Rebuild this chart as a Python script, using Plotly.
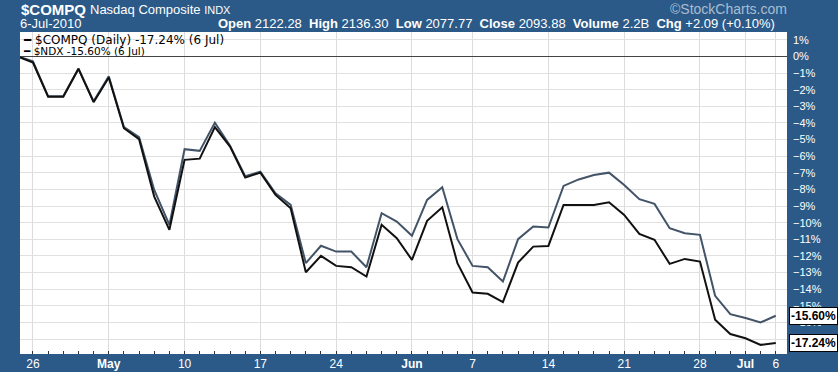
import plotly.graph_objects as go

# Trading days (categories)
dates = [
    "2010-04-23", "2010-04-26", "2010-04-27", "2010-04-28", "2010-04-29", "2010-04-30",
    "2010-05-03", "2010-05-04", "2010-05-05", "2010-05-06", "2010-05-07",
    "2010-05-10", "2010-05-11", "2010-05-12", "2010-05-13", "2010-05-14",
    "2010-05-17", "2010-05-18", "2010-05-19", "2010-05-20", "2010-05-21",
    "2010-05-24", "2010-05-25", "2010-05-26", "2010-05-27", "2010-05-28",
    "2010-06-01", "2010-06-02", "2010-06-03", "2010-06-04",
    "2010-06-07", "2010-06-08", "2010-06-09", "2010-06-10", "2010-06-11",
    "2010-06-14", "2010-06-15", "2010-06-16", "2010-06-17", "2010-06-18",
    "2010-06-21", "2010-06-22", "2010-06-23", "2010-06-24", "2010-06-25",
    "2010-06-28", "2010-06-29", "2010-06-30", "2010-07-01", "2010-07-02",
    "2010-07-06",
]

# $COMPQ percent change (%)
compq = [
    0.0, -0.37, -2.42, -2.42, -0.75, -2.75,
    -1.27, -4.32, -4.98, -8.43, -10.43,
    -6.22, -6.15, -4.25, -5.42, -7.29,
    -6.99, -8.33, -9.13, -12.98, -12.0,
    -12.6, -12.68, -13.24, -10.13, -10.93,
    -12.24, -9.89, -9.07, -12.44,
    -14.2, -14.28, -14.78, -12.4, -11.44,
    -11.4, -8.93, -8.93, -8.93, -8.77,
    -9.53, -10.67, -11.03, -12.48, -12.18,
    -12.34, -15.84, -16.7, -16.95, -17.35,
    -17.24,
]

# $NDX percent change (%)
ndx = [
    0.0, -0.3, -2.4, -2.4, -0.72, -2.7,
    -1.2, -4.25, -4.85, -8.03, -10.13,
    -5.58, -5.68, -3.98, -5.38, -7.2,
    -6.93, -8.23, -8.93, -12.43, -11.39,
    -11.74, -11.74, -12.68, -9.43, -9.93,
    -10.79, -8.63, -7.87, -10.99,
    -12.6, -12.68, -13.54, -10.99, -10.23,
    -10.29, -7.79, -7.4, -7.13, -6.99,
    -7.73, -8.59, -8.87, -10.33, -10.63,
    -10.73, -14.4, -15.5, -15.74, -16.0,
    -15.6,
]

tick_dates = ["2010-04-26", "2010-05-03", "2010-05-10", "2010-05-17", "2010-05-24",
              "2010-06-01", "2010-06-07", "2010-06-14", "2010-06-21", "2010-06-28",
              "2010-07-01", "2010-07-06"]
tick_labels = ["26", "<b>May</b>", "10", "17", "24", "<b>Jun</b>", "7", "14", "21", "28",
               "<b>Jul</b>", "6"]

BG = "#2b5a88"
NDX_COLOR = "#435468"
COMPQ_COLOR = "#111111"
FONT = "Arial, Liberation Sans, sans-serif"

x = list(range(len(dates)))
tickvals = [dates.index(d) for d in tick_dates]

fig = go.Figure()
fig.add_trace(go.Scatter(x=x, y=ndx, mode="lines", line=dict(color=NDX_COLOR, width=2),
                         name="$NDX", hoverinfo="skip"))
fig.add_trace(go.Scatter(x=x, y=compq, mode="lines", line=dict(color=COMPQ_COLOR, width=2),
                         name="$COMPQ", hoverinfo="skip"))

fig.update_layout(
    width=838, height=372,
    margin=dict(l=20, r=51, t=32, b=18),
    paper_bgcolor=BG, plot_bgcolor="white",
    showlegend=False,
    font=dict(family=FONT, color="white"),
)

fig.update_xaxes(
    range=[0.145, 50.74], automargin=False,
    tickmode="array", tickvals=tickvals, ticktext=tick_labels,
    tickfont=dict(size=12, color="white", family=FONT),
    showgrid=True, gridcolor="#dcdcdc", gridwidth=1,
    ticks="inside", ticklen=3, tickcolor="#333333",
    minor=dict(tickmode="linear", tick0=0, dtick=1, ticks="inside", ticklen=3,
               tickcolor="#333333", showgrid=False),
    zeroline=False, showline=False, ticklabelstandoff=1,
)

fig.update_yaxes(
    side="right", range=[-17.9, 1.47], automargin=False,
    tickmode="linear", tick0=0, dtick=1, ticksuffix="%",
    tickfont=dict(size=11, color="white", family=FONT),
    showgrid=True, gridcolor="#e0e0e0", gridwidth=1,
    zeroline=True, zerolinecolor="#444444", zerolinewidth=1,
    ticks="", ticklabelstandoff=5, showline=False,
)

ann = []
# Header
ann.append(dict(xref="paper", yref="paper", x=0, y=1 + (32-10)/322, xanchor="left", yanchor="middle",
                text="<b>$COMPQ</b>", font=dict(size=15, color="white", family=FONT), showarrow=False,
                xshift=-1))
ann.append(dict(xref="paper", yref="paper", x=0, y=1 + (32-10)/322, xanchor="left", yanchor="middle",
                text="Nasdaq Composite <span style='font-size:11px'>INDX</span>",
                font=dict(size=13, color="white", family=FONT), showarrow=False, xshift=68))
ann.append(dict(xref="paper", yref="paper", x=0, y=1 + (32-24)/322, xanchor="left", yanchor="middle",
                text="6-Jul-2010", font=dict(size=13, color="white", family=FONT), showarrow=False,
                xshift=-2))
ann.append(dict(xref="paper", yref="paper", x=1, y=1 + (32-24)/322, xanchor="right", yanchor="middle",
                text="<b>Open</b> 2122.28  <b>High</b> 2136.30  <b>Low</b> 2077.77  <b>Close</b> 2093.88  "
                     "<b>Volume</b> 2.2B  <b>Chg</b> +2.09 (+0.10%)",
                font=dict(size=13, color="white", family=FONT), showarrow=False, xshift=-10))
ann.append(dict(xref="paper", yref="paper", x=1, y=1 + (32-9)/322, xanchor="right", yanchor="middle",
                text="©StockCharts.com", font=dict(size=14, color="#a9bdd2", family=FONT),
                showarrow=False, xshift=2))
# In-plot legend
ann.append(dict(xref="paper", yref="paper", x=0, y=1 - (40-32)/322, xanchor="left", yanchor="middle",
                text="<b>━</b> $COMPQ (Daily) -17.24% (6 Jul)",
                font=dict(size=12, color="black", family="DejaVu Sans, Verdana, sans-serif"),
                showarrow=False, xshift=1))
ann.append(dict(xref="paper", yref="paper", x=0, y=1 - (51-32)/322, xanchor="left", yanchor="middle",
                text="<b>━</b> $NDX -15.60% (6 Jul)",
                font=dict(size=10.5, color="black", family="DejaVu Sans, Verdana, sans-serif"),
                showarrow=False, xshift=1))
# End-value labels
for series, txt in ((ndx, "-15.60%"), (compq, "-17.24%")):
    ann.append(dict(xref="paper", yref="y", x=1, y=series[-1], xanchor="left", yanchor="middle",
                    text="<b>" + txt + "</b>", font=dict(size=12, color="black", family=FONT),
                    bgcolor="white", bordercolor="black", borderwidth=1, borderpad=1,
                    showarrow=False, xshift=2))

fig.update_layout(annotations=ann)

fig.write_html("out.html")
